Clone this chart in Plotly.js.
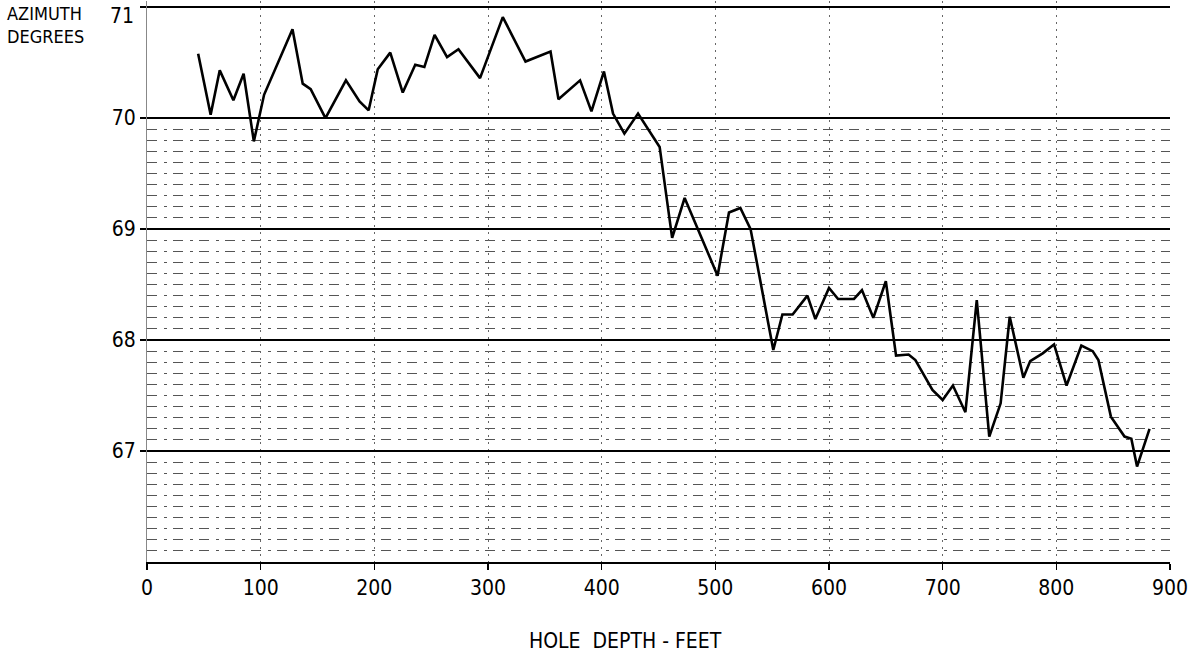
<!DOCTYPE html>
<html>
<head>
<meta charset="utf-8">
<script src="https://cdn.plot.ly/plotly-3.0.1.min.js"></script>
<style>
  html, body { margin: 0; padding: 0; background: #fff; }
  #chart { width: 1200px; height: 653px; }
</style>
</head>
<body>
<div id="chart"></div>
<script>
// Hole depth (feet)
const depthFeet = [45, 56, 64, 76, 85, 94, 103, 117, 128, 137, 144, 157, 175, 187, 195, 203, 214, 225, 236, 244, 253, 264, 274, 293, 313, 333, 355, 362, 381, 391, 402, 410, 420, 432, 451, 462, 473, 502, 512, 522, 531, 551, 559, 568, 581, 588, 600, 608, 622, 629, 639, 650, 659, 670, 676, 691, 700, 709, 720, 730, 741, 751, 759, 771, 777, 788, 798, 809, 822, 832, 837, 848, 860, 866, 871, 882];
// Azimuth (degrees)
const azimuthDeg = [70.58, 70.03, 70.43, 70.16, 70.40, 69.79, 70.21, 70.55, 70.80, 70.31, 70.26, 70.00, 70.34, 70.15, 70.07, 70.44, 70.59, 70.23, 70.48, 70.46, 70.75, 70.55, 70.62, 70.36, 70.91, 70.51, 70.60, 70.17, 70.34, 70.06, 70.42, 70.04, 69.86, 70.04, 69.74, 68.92, 69.28, 68.58, 69.15, 69.19, 69.00, 67.91, 68.23, 68.23, 68.40, 68.19, 68.47, 68.37, 68.37, 68.45, 68.20, 68.53, 67.86, 67.87, 67.82, 67.55, 67.46, 67.59, 67.35, 68.36, 67.13, 67.43, 68.21, 67.66, 67.81, 67.88, 67.96, 67.59, 67.95, 67.90, 67.82, 67.31, 67.13, 67.11, 66.86, 67.20];

const xTickVals = [0, 100, 200, 300, 400, 500, 600, 700, 800, 900];
const yTickVals = [67, 68, 69, 70, 71];
const yTopLabel = '71';
const yMinorVals = [];
for (let v = 66.1; v < 69.95; v += 0.1) {
  const r = Math.round(v * 10) / 10;
  if (Math.abs(r - Math.round(r)) > 0.01) yMinorVals.push(r);
}

const FONT = 'Liberation Sans Narrow, DejaVu Sans Condensed, Liberation Sans, sans-serif';

const trace = {
  x: depthFeet,
  y: azimuthDeg,
  type: 'scatter',
  mode: 'lines',
  line: { color: '#000', width: 2.6 },
  hoverinfo: 'x+y'
};

const layout = {
  width: 1200,
  height: 653,
  margin: { l: 147, r: 30, t: 1, b: 91 },
  paper_bgcolor: '#fff',
  plot_bgcolor: '#fff',
  showlegend: false,
  font: { family: FONT, color: '#000', size: 20 },
  xaxis: {
    range: [0, 900],
    tickmode: 'array',
    tickvals: xTickVals,
    ticktext: xTickVals.map(String),
    ticks: 'outside',
    ticklen: 6,
    tickcolor: '#000',
    tickwidth: 1.5,
    showgrid: true,
    gridcolor: '#666',
    griddash: '2px,5px',
    gridwidth: 1,
    showline: true,
    linecolor: '#000',
    linewidth: 2,
    mirror: false,
    zeroline: false,
    tickfont: { family: FONT, size: 21, color: '#000' },
    fixedrange: true
  },
  yaxis: {
    range: [66, 71.055],
    tickmode: 'array',
    tickvals: yTickVals,
    ticktext: yTickVals.map(String),
    ticks: 'outside',
    ticklen: 6,
    tickcolor: '#000',
    tickwidth: 1.5,
    showgrid: true,
    gridcolor: '#000',
    gridwidth: 2,
    showline: true,
    linecolor: '#888',
    linewidth: 1,
    zeroline: false,
    tickfont: { family: FONT, size: 21, color: '#000' },
    minor: {
      tickmode: 'array',
      tickvals: yMinorVals,
      showgrid: true,
      gridcolor: '#555',
      griddash: '10px,7px,3px,6px',
      gridwidth: 1,
      ticks: ''
    },
    fixedrange: true
  },
  annotations: [
    {
      text: yTopLabel,
      xref: 'paper', yref: 'y',
      x: -0.0105, y: 71,
      xanchor: 'right', yanchor: 'top',
      yshift: 5,
      showarrow: false,
      font: { family: FONT, size: 21, color: '#000' }
    },
    {
      text: 'AZIMUTH<br>DEGREES',
      xref: 'paper', yref: 'paper',
      x: -0.139, y: 1.0,
      xanchor: 'left', yanchor: 'top',
      align: 'left',
      showarrow: false,
      font: { family: FONT, size: 18, color: '#000' }
    },
    {
      text: 'HOLE&nbsp;&nbsp;DEPTH - FEET',
      xref: 'paper', yref: 'paper',
      x: 0.468, y: -0.115,
      xanchor: 'center', yanchor: 'top',
      showarrow: false,
      font: { family: FONT, size: 21, color: '#000' }
    }
  ]
};

Plotly.newPlot('chart', [trace], layout, { displayModeBar: false, staticPlot: true });
</script>
</body>
</html>
